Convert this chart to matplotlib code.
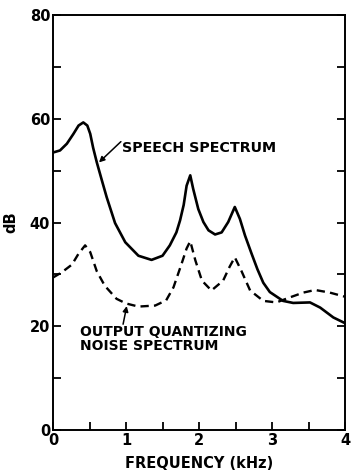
import matplotlib
matplotlib.use("Agg")
import matplotlib.pyplot as plt
from matplotlib.ticker import MultipleLocator

speech_khz = [0.0, 0.096, 0.19, 0.28, 0.35, 0.415, 0.47, 0.51, 0.55, 0.60, 0.67, 0.735, 0.85,
              0.99, 1.17, 1.35, 1.50, 1.60, 1.69, 1.74, 1.79, 1.83, 1.88, 1.92, 1.99, 2.06,
              2.13, 2.22, 2.31, 2.40, 2.49, 2.56, 2.63, 2.72, 2.80, 2.88, 2.97, 3.15, 3.29,
              3.52, 3.66, 3.84, 4.0]
speech_db = [53.5, 53.9, 55.2, 57.1, 58.7, 59.3, 58.7, 57.1, 54.4, 51.6, 48.1, 44.9, 39.9,
             36.2, 33.6, 32.8, 33.6, 35.6, 38.1, 40.4, 43.4, 47.1, 49.1, 46.5, 42.6, 40.1,
             38.5, 37.7, 38.1, 40.1, 43.0, 40.7, 37.5, 34.0, 31.0, 28.4, 26.6, 24.9, 24.5,
             24.6, 23.6, 21.7, 20.6]

noise_khz = [0.0, 0.12, 0.26, 0.35, 0.44, 0.51, 0.60, 0.71, 0.87, 1.00, 1.17, 1.40, 1.55,
             1.65, 1.76, 1.83, 1.88, 1.95, 2.04, 2.17, 2.33, 2.42, 2.49, 2.58, 2.70, 2.88,
             3.06, 3.25, 3.43, 3.59, 3.79, 4.0]
noise_db = [29.4, 30.4, 31.9, 34.0, 35.6, 34.3, 30.6, 27.8, 25.3, 24.4, 23.8, 24.0, 25.0,
            27.5, 32.0, 35.0, 36.4, 32.7, 28.8, 26.9, 28.8, 31.5, 33.3, 30.7, 26.9, 24.9,
            24.6, 25.6, 26.5, 27.0, 26.5, 25.7]

x_ticks = [0, 1, 2, 3, 4]
y_ticks = [0, 20, 40, 60, 80]

plt.rcParams['font.family'] = ['DejaVu Sans']
fig = plt.figure(figsize=(3.51, 4.71), dpi=100)
ax = fig.add_axes([0.151, 0.087, 0.832, 0.881])

ax.plot(speech_khz, speech_db, color='black', lw=1.9, solid_joinstyle='round')
ax.plot(noise_khz, noise_db, color='black', lw=1.7, dashes=(3.5, 2.2))

ax.set_xlim(0, 4)
ax.set_ylim(0, 80)
ax.set_xticks(x_ticks)
ax.set_yticks(y_ticks)
ax.xaxis.set_minor_locator(MultipleLocator(0.5))
ax.yaxis.set_minor_locator(MultipleLocator(10))
ax.tick_params(which='both', direction='in', top=False, right=True, width=1.3)
ax.tick_params(which='major', length=6, labelsize=10.5, pad=2)
ax.tick_params(which='minor', length=6)
for lbl in ax.get_xticklabels() + ax.get_yticklabels():
    lbl.set_fontweight('bold')
for s in ax.spines.values():
    s.set_linewidth(1.4)

ax.set_xlabel('FREQUENCY (kHz)', fontsize=10.5, fontweight='bold', labelpad=6)
ax.set_ylabel('dB', fontsize=10.5, fontweight='bold', labelpad=8)

# speech annotation
ax.text(0.945, 54.4, 'SPEECH SPECTRUM', fontsize=10.3, fontweight='bold', va='center', ha='left')
ax.annotate('', xy=(0.63, 51.6), xytext=(0.93, 55.6),
            arrowprops=dict(arrowstyle='-|>', color='black', lw=1.1,
                            mutation_scale=8, shrinkA=0, shrinkB=0))
# noise annotation
ax.text(0.37, 17.6, 'OUTPUT QUANTIZING\nNOISE SPECTRUM', fontsize=10, fontweight='bold',
        va='center', ha='left', linespacing=1.0)
ax.annotate('', xy=(1.01, 23.9), xytext=(0.96, 20.4),
            arrowprops=dict(arrowstyle='-|>', color='black', lw=1.1,
                            mutation_scale=8, shrinkA=0, shrinkB=0))

fig.savefig('out.png', dpi=100)
